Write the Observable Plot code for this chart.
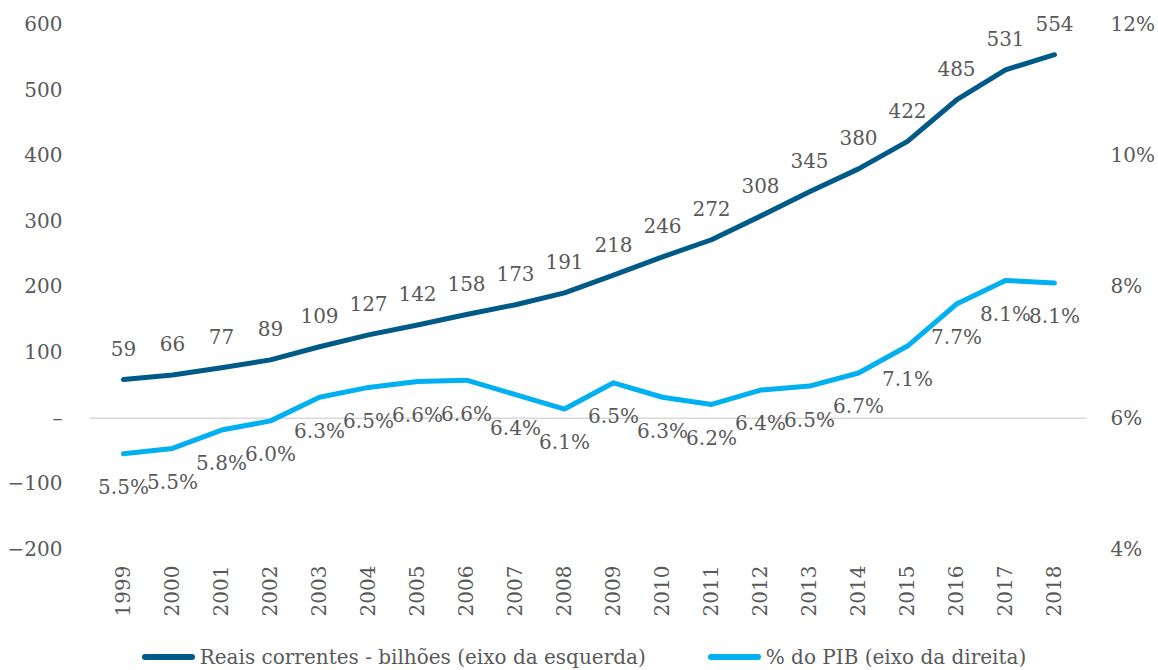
<!DOCTYPE html>
<html>
<head>
<meta charset="utf-8">
<script src="https://cdn.jsdelivr.net/npm/d3@7"></script>
<script src="https://cdn.jsdelivr.net/npm/@observablehq/plot@0.6"></script>
<style>
  html, body { margin: 0; padding: 0; background: #fff; }
  #chart { width: 1158px; }
  .legend { display: flex; justify-content: center; align-items: center; height: 44px;
    font-family: "DejaVu Serif", serif; font-size: 20px; color: #595959; padding-left: 10px; }
  .legend .item { display: flex; align-items: center; }
  .legend .sw { width: 53px; height: 6px; border-radius: 3px; margin-right: 5px; }
  .legend .gap { width: 62px; }
</style>
</head>
<body>
<div id="chart"></div>
<script>
const years = ["1999","2000","2001","2002","2003","2004","2005","2006","2007","2008","2009","2010","2011","2012","2013","2014","2015","2016","2017","2018"];
const reais = [59,66,77,89,109,127,142,158,173,191,218,246,272,308,345,380,422,485,531,554];
const pibPct = [5.46,5.54,5.82,5.96,6.32,6.47,6.56,6.58,6.36,6.14,6.54,6.32,6.21,6.43,6.49,6.69,7.10,7.74,8.10,8.06];
const leftTicks = [-200,-100,0,100,200,300,400,500,600];
const rightTicks = [-200,0,200,400,600];
const seriesNames = ["Reais correntes - bilhões (eixo da esquerda)", "% do PIB (eixo da direita)"];

const dark = "#005a87";
const light = "#00b0f0";
const textColor = "#595959";

const data = years.map((y, i) => ({year: y, reais: reais[i], pct: pibPct[i]}));
const pctToLeft = p => p * 100 - 600;

const fmtLeft = v => v === 0 ? "–" : (v < 0 ? "−" + Math.abs(v) : String(v));

const chart = Plot.plot({
  width: 1158,
  height: 635,
  marginLeft: 90,
  marginRight: 71,
  marginTop: 24,
  marginBottom: 86,
  x: {type: "point", domain: years, padding: 0.5},
  y: {domain: [-200, 600]},
  style: {fontFamily: "DejaVu Serif, serif", fontSize: "20px", color: textColor, background: "#fff"},
  marks: [
    Plot.ruleY([0], {stroke: "#d9d9d9", strokeWidth: 1.5}),
    Plot.axisY({ticks: leftTicks, tickSize: 0, tickPadding: 28, tickFormat: fmtLeft, label: null, fill: textColor}),
    Plot.axisY({anchor: "right", ticks: rightTicks, tickSize: 0, tickPadding: 23, tickFormat: v => ((v + 600) / 100) + "%", label: null, fill: textColor}),
    Plot.axisX({tickRotate: -90, tickSize: 0, tickPadding: 16, label: null, fill: textColor}),
    Plot.line(data, {x: "year", y: "reais", stroke: dark, strokeWidth: 5, strokeLinecap: "round", strokeLinejoin: "round"}),
    Plot.line(data, {x: "year", y: d => pctToLeft(d.pct), stroke: light, strokeWidth: 5, strokeLinecap: "round", strokeLinejoin: "round"}),
    Plot.text(data, {x: "year", y: "reais", text: d => String(d.reais), dy: -30, fill: textColor}),
    Plot.text(data, {x: "year", y: d => pctToLeft(d.pct), text: d => d.pct.toFixed(1) + "%", dy: 34, fill: textColor})
  ]
});
document.getElementById("chart").appendChild(chart);

const legend = document.createElement("div");
legend.className = "legend";
legend.innerHTML = `
  <div class="item"><div class="sw" style="background:${dark}"></div><span>${seriesNames[0]}</span></div>
  <div class="gap"></div>
  <div class="item"><div class="sw" style="background:${light}"></div><span>${seriesNames[1]}</span></div>`;
document.getElementById("chart").appendChild(legend);
</script>
</body>
</html>
